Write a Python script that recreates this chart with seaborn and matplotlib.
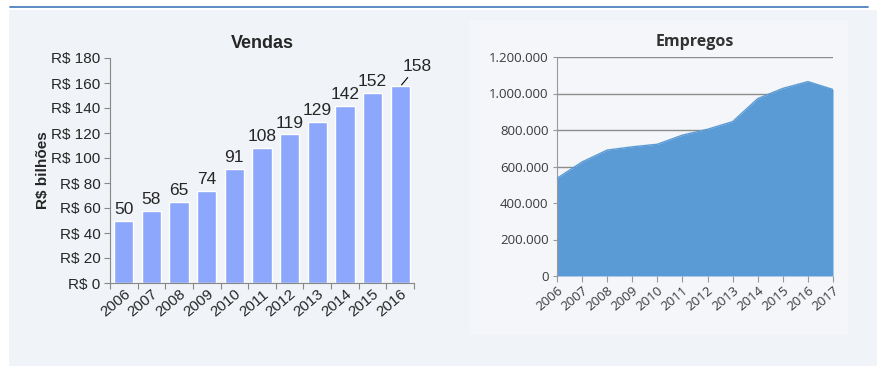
import numpy as np
import pandas as pd
import matplotlib
matplotlib.use("Agg")
import matplotlib.pyplot as plt
import seaborn as sns
from matplotlib.patches import Rectangle
from matplotlib.ticker import FuncFormatter

# dados
anos_vendas = [2006, 2007, 2008, 2009, 2010, 2011, 2012, 2013, 2014, 2015, 2016]
vendas = [50, 58, 65, 74, 91, 108, 119, 129, 142, 152, 158]

anos_empregos = [2006, 2007, 2008, 2009, 2010, 2011, 2012, 2013, 2014, 2015, 2016, 2017]
empregos = [535000, 625000, 690000, 708000, 722000, 772000, 804000, 846000, 972000, 1028000, 1065000, 1022000]

sns.set_theme(style="white")
plt.rcParams['font.family'] = ['Liberation Sans', 'DejaVu Sans']

fig = plt.figure(figsize=(8.77, 3.66), dpi=100)
fig.patch.set_facecolor("white")

# fundo cinza e linha azul no topo
fig.add_artist(Rectangle((9/877, 0), 1, 1 - 10/366, transform=fig.transFigure,
                         facecolor="#f0f3f7", edgecolor="none", zorder=-10))
fig.add_artist(plt.Line2D([10/877, 868/877], [1 - 7/366, 1 - 7/366], transform=fig.transFigure,
                          color="#4f81bd", lw=1.3))
fig.add_artist(Rectangle((470/877, 1 - 335/366), 378/877, 315/366, transform=fig.transFigure,
                         facecolor="#f4f6f9", edgecolor="none", zorder=-9))

# ---- Vendas ----
ax1 = fig.add_axes([110/877, 1 - 283/366, 304/877, 225/366])
ax1.set_facecolor("none")
df_v = pd.DataFrame({"ano": [str(a) for a in anos_vendas], "vendas": vendas})
sns.barplot(data=df_v, x="ano", y="vendas", color="#8ca7fb", saturation=1, width=0.7, ax=ax1)
ax1.set_xlim(-0.5, len(vendas) - 0.5)
ax1.set_ylim(0, 180)
ax1.set_yticks(range(0, 181, 20))
ax1.yaxis.set_major_formatter(FuncFormatter(lambda v, p: f"R$ {v:.0f}"))
ax1.set_xlabel("")
ax1.set_ylabel("R$ bilhões", fontsize=11, fontweight="bold", labelpad=1)
ax1.set_title("Vendas", fontsize=13, fontweight="bold", pad=7)
for s in ["top", "right"]:
    ax1.spines[s].set_visible(False)
for s in ["left", "bottom"]:
    ax1.spines[s].set_color("#888888")
    ax1.spines[s].set_linewidth(0.8)
ax1.set_xticks(np.arange(-0.5, len(vendas), 1), minor=True)
ax1.tick_params(axis="x", which="major", length=0, labelsize=11, pad=3)
ax1.tick_params(axis="x", which="minor", length=4, color="#888888", width=0.8, direction="out", bottom=True)
ax1.tick_params(axis="y", length=4, color="#888888", width=0.8, direction="out", left=True, labelsize=11, pad=3)
for lab in ax1.get_xticklabels():
    lab.set_rotation(40)
    lab.set_ha("right")
    lab.set_rotation_mode("anchor")
for i, v in enumerate(vendas):
    if i == len(vendas) - 1:
        ax1.annotate(str(v), xy=(i + 0.05, v + 0.5), xytext=(i + 0.6, v + 9), ha="center", va="bottom",
                     fontsize=12.5, arrowprops=dict(arrowstyle="-", color="black", lw=0.8,
                                                   shrinkA=0, shrinkB=0))
    else:
        ax1.text(i, v + 3, str(v), ha="center", va="bottom", fontsize=12.5)

# ---- Empregos ----
ax2 = fig.add_axes([557/877, 1 - 276/366, 276/877, 219/366])
ax2.set_facecolor("none")
df_e = pd.DataFrame({"ano": anos_empregos, "empregos": empregos})
ax2.fill_between(df_e["ano"], df_e["empregos"], color="#5b9bd5", lw=0, zorder=2)
sns.lineplot(data=df_e, x="ano", y="empregos", color="#5b9bd5", lw=1, ax=ax2, zorder=3)
ax2.set_xlim(2006, 2017)
ax2.set_ylim(0, 1200000)
ax2.set_yticks(range(0, 1200001, 200000))
ax2.yaxis.set_major_formatter(FuncFormatter(lambda v, p: f"{v:,.0f}".replace(",", ".")))
ax2.set_xticks(anos_empregos)
ax2.set_xlabel("")
ax2.set_ylabel("")
ax2.grid(axis="y", color="#8c8c8c", lw=1, zorder=1)
ax2.set_axisbelow(True)
ax2.set_title("Empregos", fontsize=11.5, fontweight="bold", color="#333333", pad=8,
              family=["Open Sans", "DejaVu Sans"])
for s in ["top", "right", "bottom"]:
    ax2.spines[s].set_visible(False)
ax2.spines["left"].set_color("#999999")
ax2.spines["left"].set_linewidth(0.8)
ax2.tick_params(axis="x", length=4, color="#999999", width=0.8, direction="out", bottom=True,
                labelsize=9.5, labelcolor="#3a3a3a", pad=2)
ax2.tick_params(axis="y", length=3, color="#999999", width=0.8, direction="out", left=True,
                labelsize=9.5, labelcolor="#3a3a3a", pad=3)
for lab in ax2.get_xticklabels() + ax2.get_yticklabels():
    lab.set_family(["Open Sans", "DejaVu Sans"])
for lab in ax2.get_xticklabels():
    lab.set_rotation(40)
    lab.set_ha("right")
    lab.set_rotation_mode("anchor")

fig.savefig("out.png", dpi=100)
